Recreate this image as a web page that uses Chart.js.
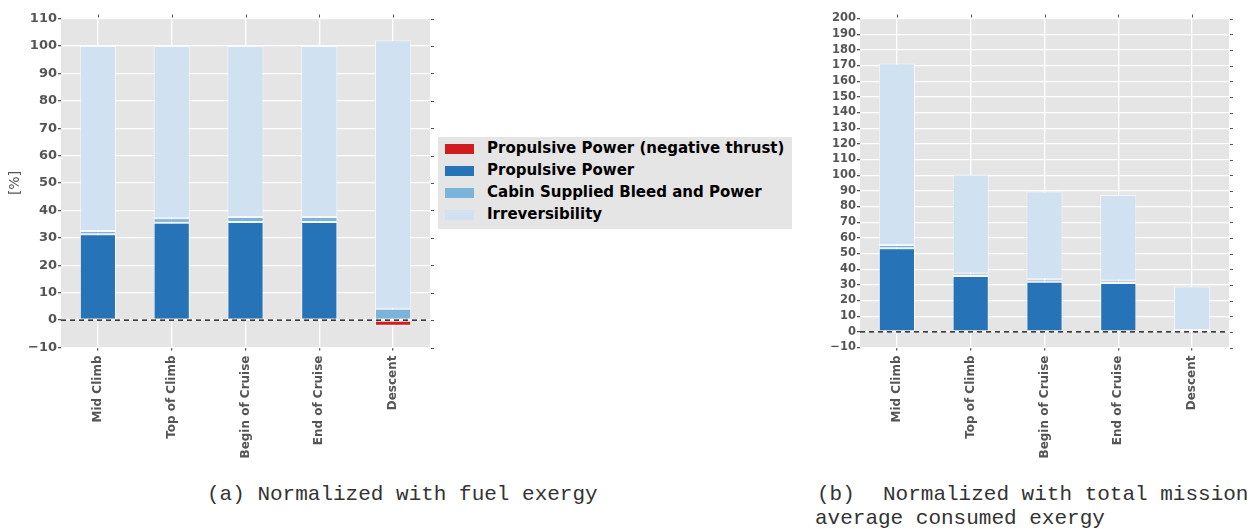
<!DOCTYPE html>
<html>
<head>
<meta charset="utf-8">
<script src="https://cdn.jsdelivr.net/npm/chart.js@4/dist/chart.umd.min.js"></script>
<style>
  html, body { margin: 0; padding: 0; background: #ffffff; }
  body { width: 1254px; height: 529px; position: relative; overflow: hidden; }
  canvas { position: absolute; top: 0; }
  #legend { position: absolute; left: 438px; top: 137px; width: 354px; height: 92px; background: #e5e5e5; }
  .item { position: absolute; left: 0; height: 22px; }
  .sw { position: absolute; left: 7px; top: 6px; width: 29px; height: 10px; }
  .lt { position: absolute; left: 49px; top: 1px; line-height: 22px; font: bold 15px "DejaVu Sans"; color: #000; white-space: nowrap; }
  .cap { position: absolute; font-family: "Liberation Mono", "DejaVu Sans Mono", monospace; font-size: 21px; color: #333; white-space: pre; line-height: 24px; }
</style>
</head>
<body>
<canvas id="c1" width="440" height="470" style="left:0px;width:440px;height:470px"></canvas>
<canvas id="c2" width="454" height="470" style="left:800px;width:454px;height:470px"></canvas>
<div id="legend"></div>
<div class="cap" style="left:207px;top:483px">(a) Normalized with fuel exergy</div>
<div class="cap" style="left:817px;top:483px">(b)</div>
<div class="cap" style="left:883px;top:483px">Normalized with total mission</div>
<div class="cap" style="left:815px;top:507px">average consumed exergy</div>
<script>
// ---- data ----
const categories = ['Mid Climb', 'Top of Climb', 'Begin of Cruise', 'End of Cruise', 'Descent'];
const seriesNames = ['Propulsive Power (negative thrust)', 'Propulsive Power', 'Cabin Supplied Bleed and Power', 'Irreversibility'];
const seriesColors = ['#d01c1f', '#2674b7', '#7ab4da', '#d0e1f1'];

// (a) normalized with fuel exergy [%]
const fuelNegThrust  = [null, null, null, null, -2.1];
const fuelPropulsive = [31.3, 35.5, 35.8, 35.8, null];
const fuelCabin      = [1.2, 1.6, 1.8, 1.8, 4.1];
const fuelIrrev      = [67.5, 62.9, 62.4, 62.4, 98.0];

// (b) normalized with total mission average consumed exergy [%]
const missionNegThrust  = [null, null, null, null, -0.6];
const missionPropulsive = [53.4, 35.6, 32.0, 31.2, null];
const missionCabin      = [2.1, 1.6, 1.5, 1.6, 1.2];
const missionIrrev      = [115.8, 63.2, 56.1, 54.5, 27.7];

const fuelTicks = { min: -10, max: 110, step: 10 };
const missionTicks = { min: -10, max: 200, step: 10 };

// ---- legend (HTML, from series arrays) ----
const leg = document.getElementById('legend');
seriesNames.forEach((n, i) => {
  const it = document.createElement('div');
  it.className = 'item';
  it.style.top = (0.5 + i * 22.3) + 'px';
  it.innerHTML = '<div class="sw" style="background:' + seriesColors[i] + '"></div><div class="lt"></div>';
  it.querySelector('.lt').textContent = n;
  leg.appendChild(it);
});

// ---- plugins ----
const decor = {
  id: 'decor',
  beforeDraw(chart) {
    const a = chart.chartArea, ctx = chart.ctx;
    ctx.save();
    ctx.fillStyle = '#e5e5e5';
    ctx.fillRect(a.left, a.top, a.right - a.left, a.bottom - a.top);
    ctx.restore();
  },
  afterDatasetsDraw(chart) {
    const a = chart.chartArea, ctx = chart.ctx;
    const y0 = chart.scales.y.getPixelForValue(0);
    ctx.save();
    ctx.strokeStyle = '#000';
    ctx.lineWidth = 1.3;
    ctx.setLineDash([5, 4]);
    ctx.beginPath();
    ctx.moveTo(a.left, y0);
    ctx.lineTo(a.right, y0);
    ctx.stroke();
    ctx.setLineDash([]);
    // mirror tick marks on right and top
    ctx.strokeStyle = '#555';
    ctx.lineWidth = 1;
    const ys = chart.scales.y, xs = chart.scales.x;
    ys.ticks.forEach((t, i) => {
      const y = Math.round(ys.getPixelForTick(i)) + 0.5;
      ctx.beginPath(); ctx.moveTo(a.right + 1, y); ctx.lineTo(a.right + 4, y); ctx.stroke();
    });
    xs.ticks.forEach((t, i) => {
      const x = Math.round(xs.getPixelForTick(i)) + 0.5;
      ctx.beginPath(); ctx.moveTo(x, a.top - 4); ctx.lineTo(x, a.top - 1); ctx.stroke();
    });
    ctx.restore();
  }
};

function makeChart(id, neg, prop, cab, irr, tk, cfg) {
  const vals = [neg, prop, cab, irr];
  const datasets = vals.map((v, i) => ({
    label: seriesNames[i],
    data: v,
    backgroundColor: seriesColors[i],
    borderColor: 'rgba(255,255,255,0.65)',
    borderWidth: 1,
    borderSkipped: false,
    barPercentage: 0.49,
    categoryPercentage: 1.0,
    stack: 's'
  }));
  return new Chart(document.getElementById(id), {
    type: 'bar',
    data: { labels: categories, datasets },
    options: {
      responsive: false,
      animation: false,
      devicePixelRatio: 1,
      layout: { padding: { top: 18.5, right: cfg.padRight, left: 0, bottom: 0 } },
      plugins: { legend: { display: false }, tooltip: { enabled: false } },
      scales: {
        x: {
          stacked: true,
          offset: true,
          border: { display: false },
          grid: { color: '#ffffff', lineWidth: 1.3, offset: false, drawTicks: true, tickLength: 3, tickColor: '#555' },
          ticks: { autoSkip: false, minRotation: 90, maxRotation: 90, padding: 5, color: '#555', font: { family: 'DejaVu Sans', weight: 'bold', size: 12 } },
          afterFit(s) { s.height = 122.5; }
        },
        y: {
          stacked: true,
          min: tk.min, max: tk.max,
          border: { display: false },
          grid: { color: '#ffffff', lineWidth: 1.3, drawTicks: true, tickLength: 3, tickColor: '#555' },
          ticks: {
            autoSkip: false,
            stepSize: tk.step, padding: 1, color: '#555',
            font: { family: 'DejaVu Sans', weight: 'bold', size: cfg.tickSize },
            callback: (v) => v < 0 ? '\u2212' + (-v) : String(v)
          },
          title: cfg.yTitle ? { display: true, text: cfg.yTitle, color: '#555', padding: { top: 7, bottom: 0 }, font: { family: 'DejaVu Sans', size: 14 } } : { display: false },
          afterFit(s) { s.width = cfg.yWidth; }
        }
      }
    },
    plugins: [decor]
  });
}

makeChart('c1', fuelNegThrust, fuelPropulsive, fuelCabin, fuelIrrev, fuelTicks, { padRight: 10, yWidth: 61, tickSize: 13, yTitle: '[%]' });
makeChart('c2', missionNegThrust, missionPropulsive, missionCabin, missionIrrev, missionTicks, { padRight: 25, yWidth: 60, tickSize: 11.5, yTitle: '' });
</script>
</body>
</html>
